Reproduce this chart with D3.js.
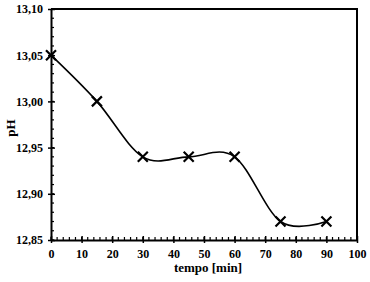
<!DOCTYPE html>
<html><head><meta charset="utf-8">
<script src="https://cdn.jsdelivr.net/npm/d3@7"></script>
<style>body{margin:0;background:#fff}svg{display:block}text{font-family:"Liberation Serif","Times New Roman",serif;font-weight:bold;fill:#000}</style>
</head><body>
<script>
const times = [0, 15, 30, 45, 60, 75, 90];
const phValues = [13.05, 13.00, 12.94, 12.94, 12.94, 12.87, 12.87];
const xTicks = [0, 10, 20, 30, 40, 50, 60, 70, 80, 90, 100];
const yTicks = [12.85, 12.90, 12.95, 13.00, 13.05, 13.10];
const xTitle = "tempo [min]";
const yTitle = "pH";

const W = 370, H = 282;
const m = {l: 51, r: 13, t: 9, b: 42};
const svg = d3.select("body").append("svg").attr("width", W).attr("height", H);
const x = d3.scaleLinear().domain([0, 100]).range([m.l, W - m.r]);
const y = d3.scaleLinear().domain([12.85, 13.10]).range([H - m.b, m.t]);

svg.append("path").attr("d", `M${x(0)},${y(13.10)}H${x(100)}V${y(12.85)}`)
  .attr("fill", "none").attr("stroke", "#000").attr("stroke-width", 2);

const fmt = d => d3.format(".2f")(d).replace(".", ",");

const xMinor = d3.range(0, 100.001, 2);
svg.append("g").selectAll("line").data(xMinor).join("line")
  .attr("x1", d => x(d)).attr("x2", d => x(d)).attr("y1", y(12.85)).attr("y2", y(12.85) - 3)
  .attr("stroke", "#000").attr("stroke-width", 1.2);
const yMinor = d3.range(0, 26).map(i => 12.85 + i * 0.01);
svg.append("g").selectAll("line").data(yMinor).join("line")
  .attr("x1", x(0)).attr("x2", x(0) + 3).attr("y1", d => y(d)).attr("y2", d => y(d))
  .attr("stroke", "#000").attr("stroke-width", 1.2);

const xAxis = svg.append("g").attr("transform", `translate(0,${y(12.85)})`)
  .call(d3.axisBottom(x).tickValues(xTicks).tickSizeInner(-4).tickSizeOuter(0).tickPadding(9));
xAxis.selectAll(".tick line").attr("y2", -4).attr("y1", 3).attr("stroke-width", 1.5);
xAxis.select(".domain").attr("stroke-width", 2);
xAxis.selectAll("text").attr("font-size", 12).attr("font-family", "Liberation Serif").attr("font-weight", "bold").attr("fill", "#000");

const yAxis = svg.append("g").attr("transform", `translate(${x(0)},0)`)
  .call(d3.axisLeft(y).tickValues(yTicks).tickFormat(fmt).tickSizeInner(3).tickSizeOuter(0).tickPadding(5));
yAxis.selectAll(".tick line").attr("x2", -3).attr("x1", 4).attr("stroke-width", 1.5);
yAxis.select(".domain").attr("stroke-width", 2);
yAxis.selectAll("text").attr("font-size", 12).attr("font-family", "Liberation Serif").attr("font-weight", "bold").attr("fill", "#000");

const data = times.map((t, i) => ({t, v: phValues[i]}));
const line = d3.line().x(d => x(d.t)).y(d => y(d.v)).curve(d3.curveCardinal.tension(0));
svg.append("path").datum(data).attr("d", line).attr("fill", "none").attr("stroke", "#000").attr("stroke-width", 1.6);

const s = 5;
svg.append("g").selectAll("path").data(data).join("path")
  .attr("d", d => `M${x(d.t)-s},${y(d.v)-s}L${x(d.t)+s},${y(d.v)+s}M${x(d.t)-s},${y(d.v)+s}L${x(d.t)+s},${y(d.v)-s}`)
  .attr("stroke", "#000").attr("stroke-width", 2.2).attr("fill", "none");

svg.append("text").attr("x", 208).attr("y", 272).attr("text-anchor", "middle")
  .attr("font-size", 13).text(xTitle);
svg.append("text").attr("transform", `translate(15,128) rotate(-90)`)
  .attr("text-anchor", "middle").attr("font-size", 13).text(yTitle);
</script>
</body></html>
